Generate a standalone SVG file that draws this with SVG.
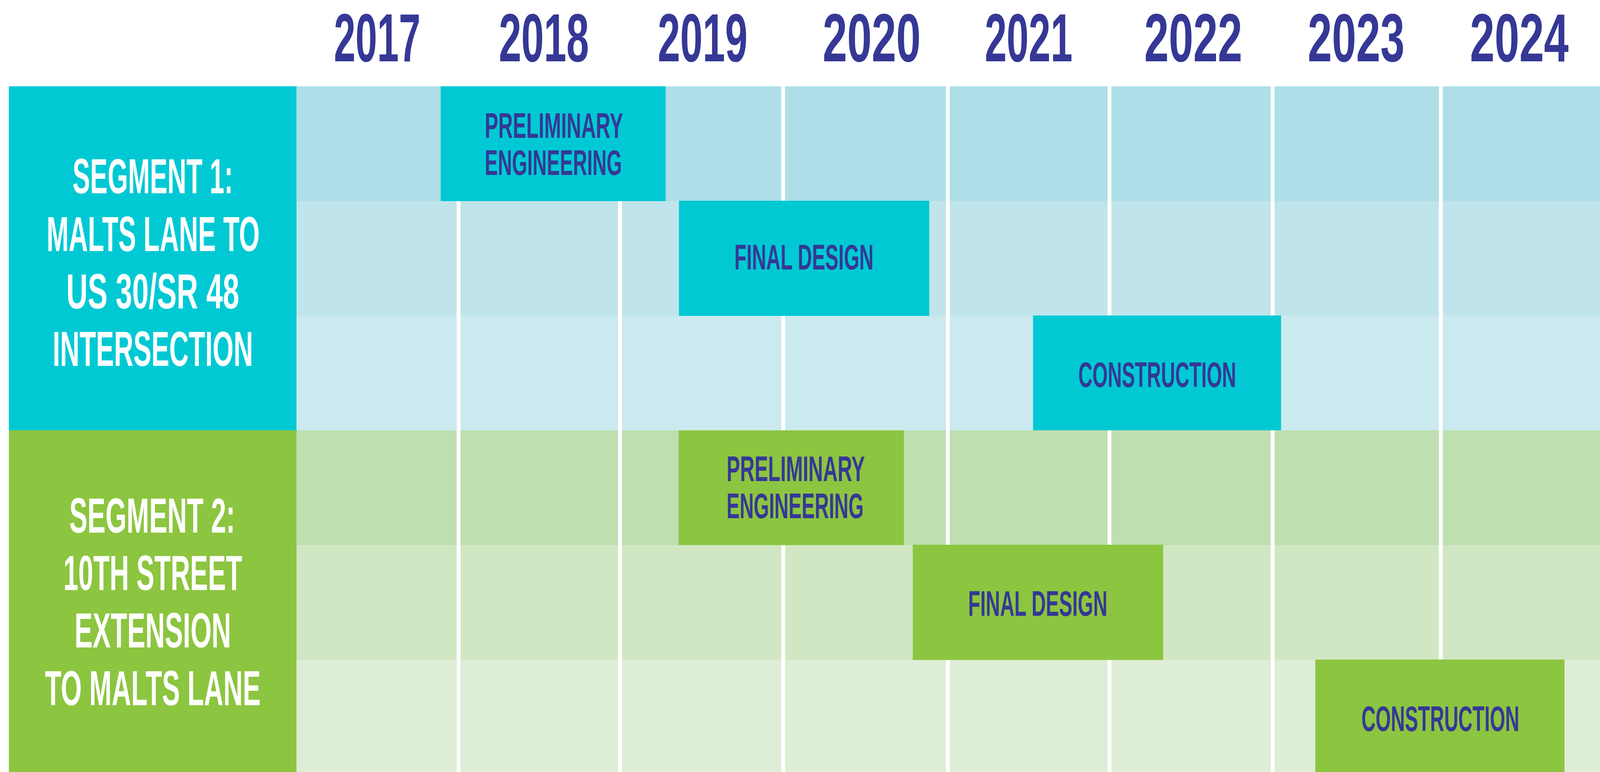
<svg xmlns="http://www.w3.org/2000/svg" width="5413" height="1977" viewBox="0 0 5413 1977" preserveAspectRatio="none" style="max-width:100vw;max-height:100vh">
<style>
.yr{font-family:"Liberation Sans",Arial,sans-serif;font-weight:bold;font-size:175px;fill:#353895;text-anchor:middle}
.seg{font-family:"Liberation Sans",Arial,sans-serif;font-weight:bold;font-size:126px;fill:#ffffff;text-anchor:middle}
.bt{font-family:"Liberation Sans",Arial,sans-serif;font-weight:bold;font-size:91px;fill:#353895;text-anchor:middle}
.teal{fill:#00C9D4}
.green{fill:#8CC540}
.vl{fill:#ffffff}
</style>
<rect x="0" y="0" width="5413" height="1977" fill="#ffffff"/>
<g id="years">
<text class="yr" x="1276" y="157" textLength="293" lengthAdjust="spacingAndGlyphs">2017</text>
<text class="yr" x="1840" y="157" textLength="305" lengthAdjust="spacingAndGlyphs">2018</text>
<text class="yr" x="2377" y="157" textLength="304" lengthAdjust="spacingAndGlyphs">2019</text>
<text class="yr" x="2949" y="157" textLength="332" lengthAdjust="spacingAndGlyphs">2020</text>
<text class="yr" x="3480" y="157" textLength="297" lengthAdjust="spacingAndGlyphs">2021</text>
<text class="yr" x="4037" y="157" textLength="332" lengthAdjust="spacingAndGlyphs">2022</text>
<text class="yr" x="4588" y="157" textLength="328" lengthAdjust="spacingAndGlyphs">2023</text>
<text class="yr" x="5140" y="157" textLength="334" lengthAdjust="spacingAndGlyphs">2024</text>
</g>
<g id="grid">
<rect x="1003" y="221" width="4410" height="294" fill="#AEDFE8"/>
<rect x="1003" y="515" width="4410" height="293" fill="#C0E4EB"/>
<rect x="1003" y="808" width="4410" height="294" fill="#CBEAEF"/>
<rect x="1003" y="1102" width="4410" height="294" fill="#BEDFB0"/>
<rect x="1003" y="1396" width="4410" height="293" fill="#D1E7C3"/>
<rect x="1003" y="1689" width="4410" height="288" fill="#DEEDD5"/>
<rect class="vl" x="1545" y="221" width="13" height="1756"/>
<rect class="vl" x="2091" y="221" width="13" height="1756"/>
<rect class="vl" x="2643" y="221" width="13" height="1756"/>
<rect class="vl" x="3200" y="221" width="13" height="1756"/>
<rect class="vl" x="3747" y="221" width="13" height="1756"/>
<rect class="vl" x="4299" y="221" width="13" height="1756"/>
<rect class="vl" x="4868" y="221" width="13" height="1756"/>
</g>
<g id="segment1">
<rect class="teal" x="30" y="221" width="973" height="881"/>
<text class="seg" x="517" y="495" textLength="543" lengthAdjust="spacingAndGlyphs">SEGMENT 1:</text>
<text class="seg" x="518" y="643" textLength="721" lengthAdjust="spacingAndGlyphs">MALTS LANE TO</text>
<text class="seg" x="517" y="790" textLength="585" lengthAdjust="spacingAndGlyphs">US 30/SR 48</text>
<text class="seg" x="517" y="937" textLength="678" lengthAdjust="spacingAndGlyphs">INTERSECTION</text>
</g>
<g id="segment2">
<rect class="green" x="30" y="1102" width="973" height="875"/>
<text class="seg" x="515" y="1364" textLength="561" lengthAdjust="spacingAndGlyphs">SEGMENT 2:</text>
<text class="seg" x="517" y="1511" textLength="605" lengthAdjust="spacingAndGlyphs">10TH STREET</text>
<text class="seg" x="517" y="1658" textLength="530" lengthAdjust="spacingAndGlyphs">EXTENSION</text>
<text class="seg" x="517" y="1806" textLength="730" lengthAdjust="spacingAndGlyphs">TO MALTS LANE</text>
</g>
<g id="s1-preliminary-engineering">
<rect class="teal" x="1491" y="221" width="761" height="294"/>
<text class="bt" x="1874" y="353" textLength="468" lengthAdjust="spacingAndGlyphs">PRELIMINARY</text>
<text class="bt" x="1872" y="448" textLength="464" lengthAdjust="spacingAndGlyphs">ENGINEERING</text>
</g>
<g id="s1-final-design">
<rect class="teal" x="2297" y="514" width="847" height="295"/>
<text class="bt" x="2720" y="690" textLength="471" lengthAdjust="spacingAndGlyphs">FINAL DESIGN</text>
</g>
<g id="s1-construction">
<rect class="teal" x="3495" y="808" width="839" height="294"/>
<text class="bt" x="3915" y="991" textLength="534" lengthAdjust="spacingAndGlyphs">CONSTRUCTION</text>
</g>
<g id="s2-preliminary-engineering">
<rect class="green" x="2296" y="1102" width="762" height="294"/>
<text class="bt" x="2692" y="1232" textLength="468" lengthAdjust="spacingAndGlyphs">PRELIMINARY</text>
<text class="bt" x="2690" y="1327" textLength="464" lengthAdjust="spacingAndGlyphs">ENGINEERING</text>
</g>
<g id="s2-final-design">
<rect class="green" x="3088" y="1395" width="847" height="295"/>
<text class="bt" x="3511" y="1577" textLength="471" lengthAdjust="spacingAndGlyphs">FINAL DESIGN</text>
</g>
<g id="s2-construction">
<rect class="green" x="4450" y="1689" width="843" height="288"/>
<text class="bt" x="4873" y="1872" textLength="534" lengthAdjust="spacingAndGlyphs">CONSTRUCTION</text>
</g>
<g id="connectors"></g>
</svg>
